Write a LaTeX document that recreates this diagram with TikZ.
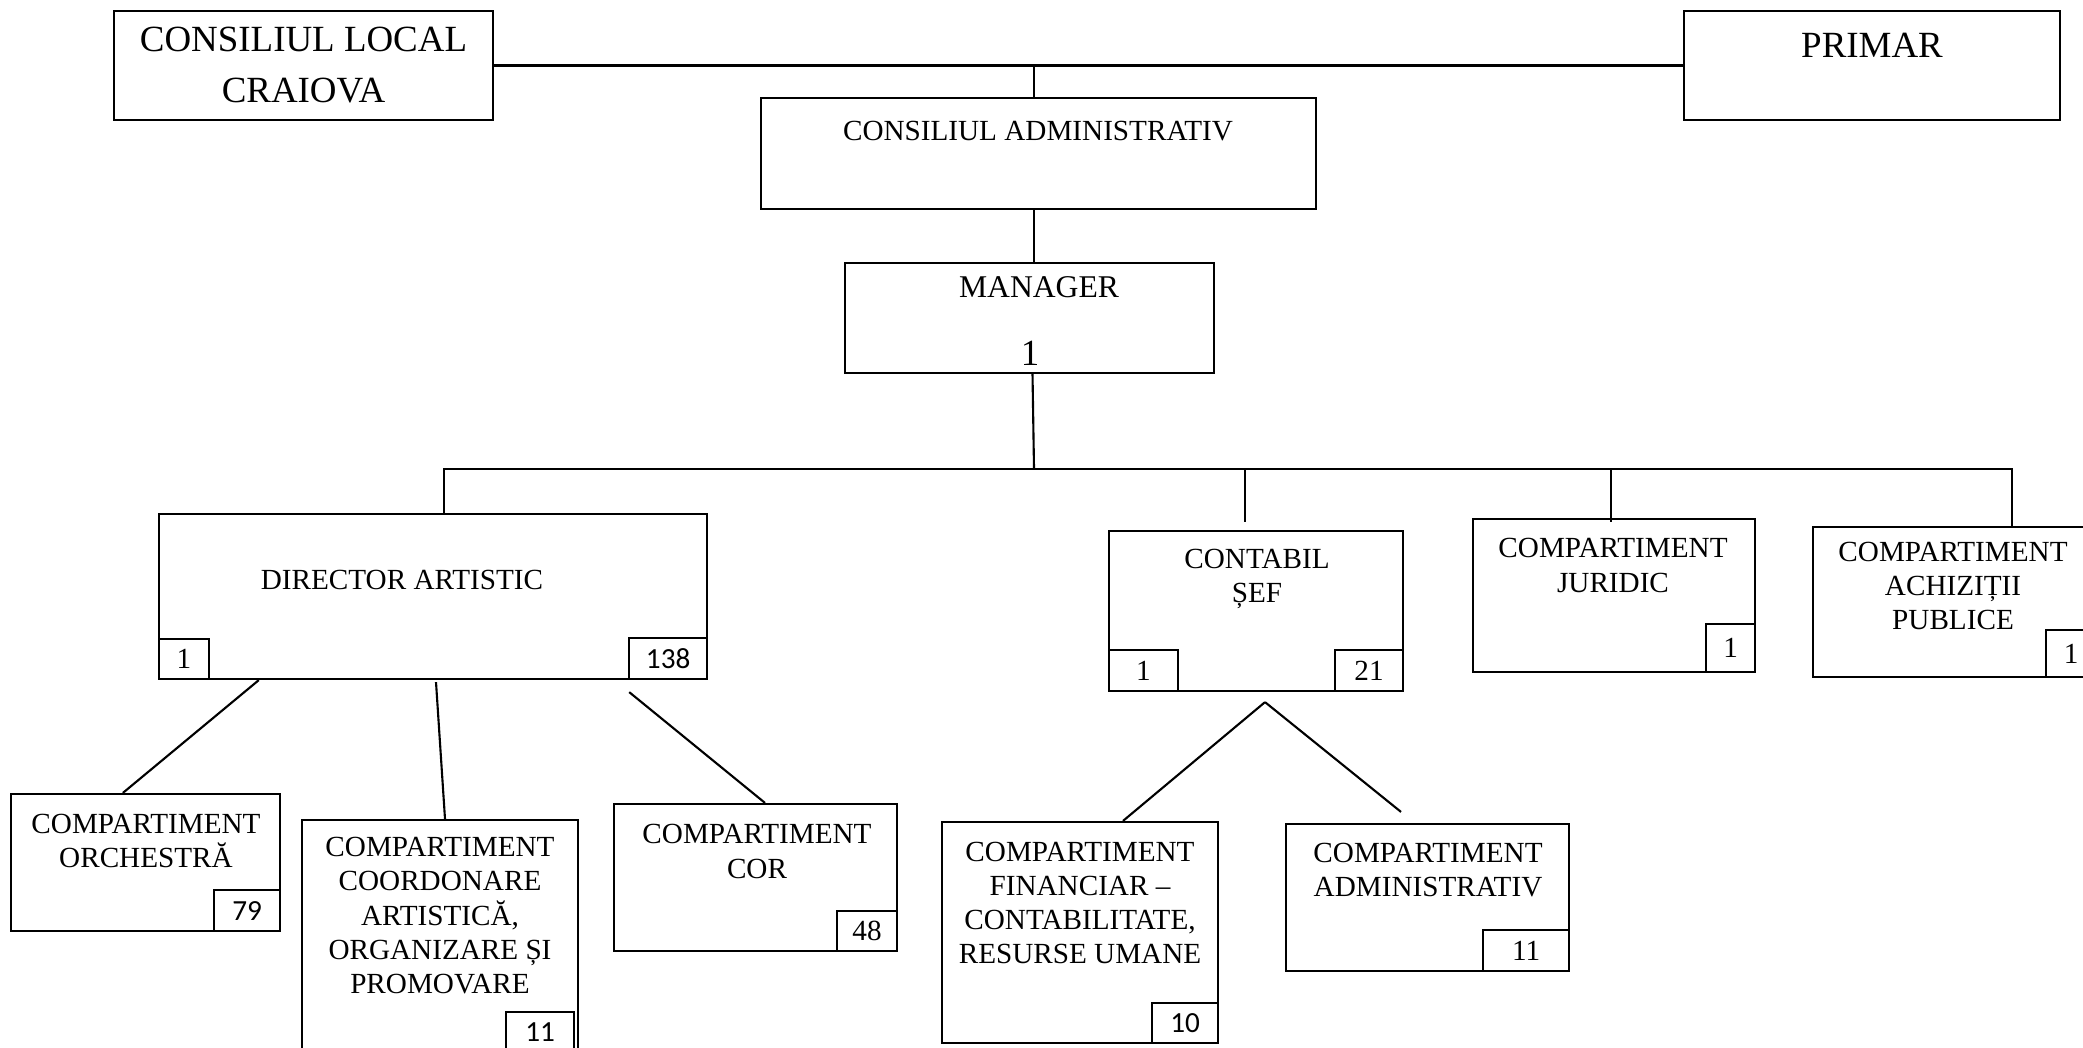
\documentclass[tikz,border=0pt]{standalone}
\usepackage{fontspec}
\setmainfont{Liberation Serif}
\setsansfont{Carlito}
\usetikzlibrary{calc,positioning}
\tikzset{
  box/.style={draw,line width=0.6pt,inner sep=0pt},
  nr/.style={draw,line width=0.6pt,inner sep=0pt,font=\fontsize{8.3}{10}\selectfont},
  nrsans/.style={nr,font=\fontsize{8.3}{10}\sffamily},
  txt/.style={align=center,inner sep=0pt,font=\fontsize{8.3}{9.7}\selectfont},
  big/.style={align=center,inner sep=0pt,font=\fontsize{10.5}{14.5}\selectfont},
  link/.style={line width=0.6pt}
}

\begin{document}
\begin{tikzpicture}[x=0.01cm,y=-0.01cm]
  \useasboundingbox (0,0) rectangle (2083,1047);
  % top level
  \node[box,minimum width=3.79cm,minimum height=1.09cm] (local) at (303.5,65.5) {};
  \node[big] (tlocal) at (local.center) {CONSILIUL LOCAL\\CRAIOVA};
  \node[box,minimum width=3.76cm,minimum height=1.09cm] (primar) at (1872,65.5) {};
  \node[big] (tprimar) at (1872,45) {PRIMAR};
  \node[box,minimum width=5.55cm,minimum height=1.11cm] (cadm) at (1038.5,153.5) {};
  \node[txt] (tcadm) at (1038,131) {CONSILIUL ADMINISTRATIV};
  \node[box,minimum width=3.69cm,minimum height=1.10cm] (manager) at (1029.5,318) {};
  \node[txt,font=\fontsize{9}{11}\selectfont] (tmanager) at (1039,287) {MANAGER};
  \node[big] (nmanager) at (1030,353) {1};
  \coordinate (bus) at (1034,469);
  \coordinate (achtop) at (2012,527);
  % second level
  \node[box,minimum width=5.48cm,minimum height=1.65cm] (dir) at (433,596.5) {};
  \node[txt] (tdir) at (402,580) {DIRECTOR ARTISTIC};
  \node[nr,minimum width=0.5cm,minimum height=0.4cm,anchor=south west] (dirA) at (dir.south west) {1};
  \node[nrsans,minimum width=0.78cm,minimum height=0.41cm,anchor=south east] (dirB) at (dir.south east) {138};
  \node[box,minimum width=2.94cm,minimum height=1.60cm] (con) at (1256,611) {};
  \node[txt] (tcon) at (1257,579) {CONTABIL\\ȘEF};
  \node[nr,minimum width=0.69cm,minimum height=0.41cm,anchor=south west] (conA) at (con.south west) {1};
  \node[nr,minimum width=0.68cm,minimum height=0.41cm,anchor=south east] (conB) at (con.south east) {21};
  \node[box,minimum width=2.82cm,minimum height=1.53cm] (jur) at (1614,595.5) {};
  \node[txt] (tjur) at (1613,565.5) {COMPARTIMENT\\JURIDIC};
  \node[nr,minimum width=0.49cm,minimum height=0.48cm,anchor=south east] (jurA) at (jur.south east) {1};
  \node[box,minimum width=2.83cm,minimum height=1.50cm] (ach) at (1954.5,602) {};
  \node[txt] (tach) at (1953,586) {COMPARTIMENT\\ACHIZIȚII\\PUBLICE};
  \node[nr,minimum width=0.50cm,minimum height=0.47cm,anchor=south east] (achA) at (ach.south east) {1};
  % third level
  \node[box,minimum width=2.69cm,minimum height=1.37cm] (orch) at (145.5,862.5) {};
  \node[txt] (torch) at (146,841) {COMPARTIMENT\\ORCHESTRĂ};
  \node[nrsans,minimum width=0.66cm,minimum height=0.41cm,anchor=south east] (orchA) at (orch.south east) {79};
  \node[box,minimum width=2.76cm,minimum height=2.32cm] (coord) at (440,936) {};
  \node[txt] (tcoord) at (440,915.6) {COMPARTIMENT\\COORDONARE\\ARTISTICĂ,\\ORGANIZARE ȘI\\PROMOVARE};
  \node[nrsans,minimum width=0.68cm,minimum height=0.40cm,anchor=south east,xshift=-0.04cm] (coordA) at (coord.south east) {11};
  \node[box,minimum width=2.83cm,minimum height=1.47cm] (cor) at (755.5,877.5) {};
  \node[txt] (tcor) at (757,851.5) {COMPARTIMENT\\COR};
  \node[nr,minimum width=0.60cm,minimum height=0.40cm,anchor=south east] (corA) at (cor.south east) {48};
  \node[box,minimum width=2.76cm,minimum height=2.21cm] (fin) at (1080,932.5) {};
  \node[txt] (tfin) at (1080,902.75) {COMPARTIMENT\\FINANCIAR –\\CONTABILITATE,\\RESURSE UMANE};
  \node[nrsans,minimum width=0.66cm,minimum height=0.40cm,anchor=south east] (finA) at (fin.south east) {10};
  \node[box,minimum width=2.83cm,minimum height=1.47cm] (adm) at (1427.5,897.5) {};
  \node[txt] (tadm) at (1428,870) {COMPARTIMENT\\ADMINISTRATIV};
  \node[nr,minimum width=0.86cm,minimum height=0.41cm,anchor=south east] (admA) at (adm.south east) {11};
  % connector ends
  \coordinate (cadmtop) at ($(cadm.north)+(-4.5,0)$);
  \coordinate (mantop) at ($(manager.north)+(4.5,0)$);
  \coordinate (manbot) at ($(manager.south)+(3,0)$);
  \coordinate (dirtop) at ($(dir.north)+(11,0)$);
  \coordinate (contop) at ($(con.north)+(-11,-8)$);
  \coordinate (jurtop) at ($(jur.north)+(-3,4)$);
  \coordinate (split) at ($(con.south)+(9,10)$);
  % connectors
  \draw[link] (local.east) -- (primar.west);
  \draw[link] (cadmtop) -- (cadmtop |- local.east);
  \draw[link] (mantop) -- (mantop |- cadm.south);
  \draw[link] (manbot) -- (bus);
  \draw[link] (dirtop) -- (dirtop |- bus) -| (achtop);
  \draw[link] (contop) -- (contop |- bus);
  \draw[link] (jurtop) -- (jurtop |- bus);
  \draw[link] ($(dir.south west)+(101,0)$) -- ($(orch.north west)+(113,0)$);
  \draw[link] ($(dir.south)+(3,2)$) -- ($(coord.north)+(5,0)$);
  \draw[link] ($(dir.south east)+(-79,12)$) -- ($(cor.north)+(9.5,0)$);
  \draw[link] (split) -- ($(fin.north)+(43,0)$);
  \draw[link] (split) -- ($(adm.north)+(-26.5,-11)$);
\end{tikzpicture}
\end{document}
